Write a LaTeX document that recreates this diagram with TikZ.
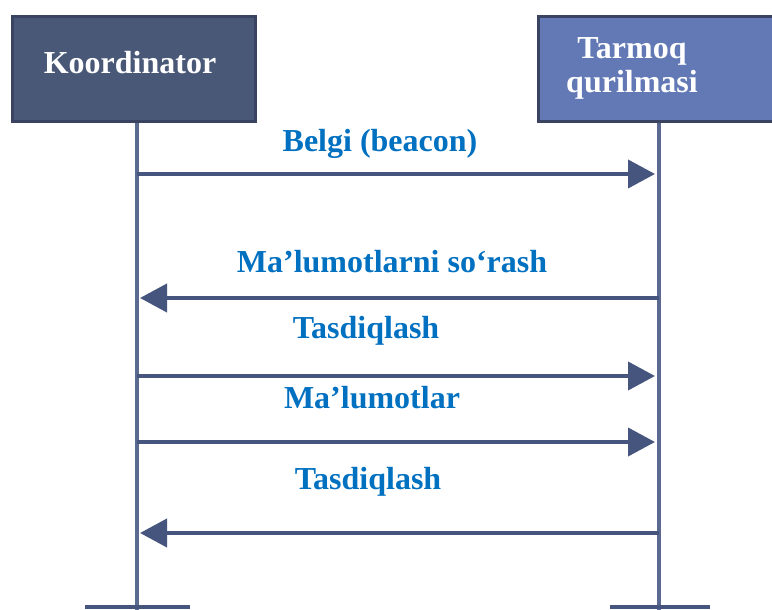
\documentclass[tikz,border=0pt]{standalone}
\usepackage{fontspec}
\setmainfont{Liberation Serif}
\usetikzlibrary{arrows.meta}
\definecolor{boxL}{HTML}{4A5878}
\definecolor{boxR}{HTML}{6279B5}
\definecolor{boxEdge}{HTML}{3A4462}
\definecolor{lifeC}{HTML}{5B6A91}
\definecolor{arrC}{HTML}{46557D}
\definecolor{labC}{HTML}{0070C0}
\tikzset{
  actor/.style={draw=boxEdge, line width=3pt, minimum height=105pt, inner sep=0pt},
  actortext/.style={text=white, font=\fontsize{32}{34}\selectfont\bfseries, align=center, inner sep=0pt},
  life/.style={draw=lifeC, line width=4.5pt},
  msg/.style={draw=arrC, line width=4pt, -{Triangle[length=27pt,width=28pt]}, arrC},
  msglab/.style={text=labC, font=\fontsize{32}{34}\selectfont\bfseries, inner sep=0pt},
  foot/.style={draw=arrC, line width=4pt},
}
\begin{document}
\begin{tikzpicture}[x=1pt,y=-1pt]
\clip (0,0) rectangle (772,610);
\fill[white] (0,0) rectangle (772,610);
% actors
\node[actor, fill=boxL, minimum width=243pt] (Lbox) at (133.5,69.5) {};
\node[actortext] (Ltext) at (130,63) {Koordinator};
\node[actor, fill=boxR, minimum width=262pt] (Rbox) at (669,69.5) {};
\node[actortext] (Rtext) at (632,68) {Tarmoq\\[0pt]qurilmasi};
% lifelines
\coordinate (Lbot) at (137,610);
\coordinate (Rbot) at (659,610);
\draw[life] (Lbot |- Lbox.south) -- (Lbot);
\draw[life] (Rbot |- Rbox.south) -- (Rbot);
% feet
\coordinate (LfA) at (85,607); \coordinate (LfB) at (190,607);
\coordinate (RfA) at (610,607); \coordinate (RfB) at (710,607);
\draw[foot] (LfA) -- (LfB);
\draw[foot] (RfA) -- (RfB);
% messages
\coordinate (m1a) at (137,174); \coordinate (m1b) at (655,174);
\coordinate (m2a) at (659,298); \coordinate (m2b) at (140,298);
\coordinate (m3a) at (137,376); \coordinate (m3b) at (655,376);
\coordinate (m4a) at (137,442); \coordinate (m4b) at (655,442);
\coordinate (m5a) at (659,533); \coordinate (m5b) at (140,533);
\draw[msg] (m1a) -- (m1b);
\draw[msg] (m2a) -- (m2b);
\draw[msg] (m3a) -- (m3b);
\draw[msg] (m4a) -- (m4b);
\draw[msg] (m5a) -- (m5b);
% labels
\node[msglab] (l1) at (380,144) {Belgi (beacon)};
\node[msglab] (l2) at (392,262) {Ma’lumotlarni so‘rash};
\node[msglab] (l3) at (366,331) {Tasdiqlash};
\node[msglab] (l4) at (372,398) {Ma’lumotlar};
\node[msglab] (l5) at (368,482) {Tasdiqlash};
\end{tikzpicture}
\end{document}
